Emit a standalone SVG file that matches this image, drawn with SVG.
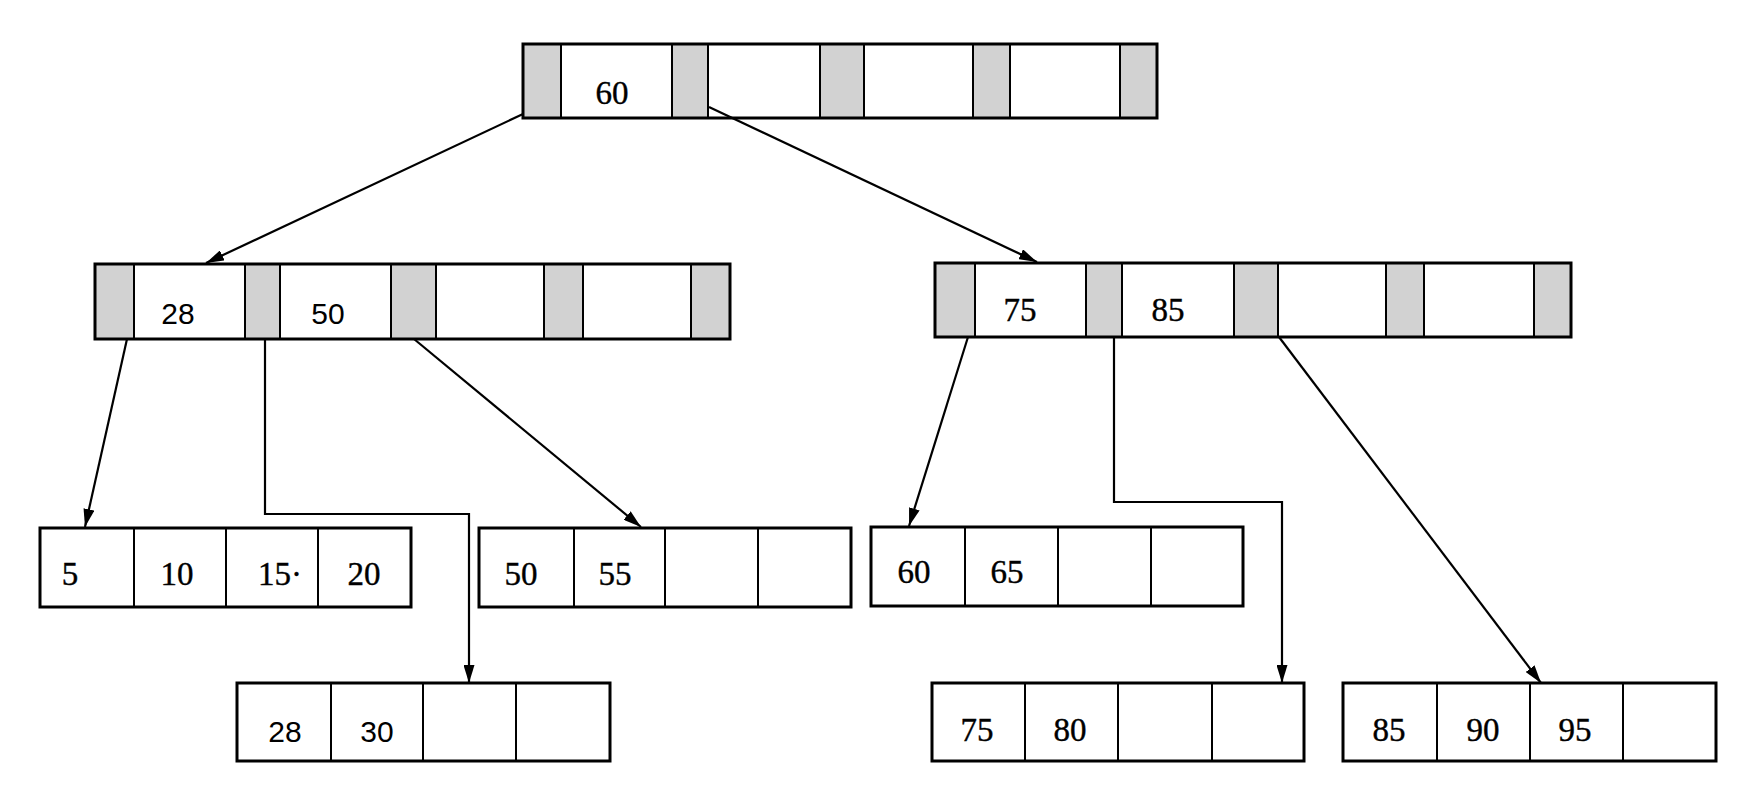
<svg xmlns="http://www.w3.org/2000/svg" width="1764" height="786" viewBox="0 0 1764 786">
<defs>
<marker id="arr" markerUnits="userSpaceOnUse" markerWidth="19" markerHeight="11" refX="18" refY="5.5" orient="auto">
<path d="M0,0 L18,5.5 L0,11 z" fill="#000"/>
</marker>
</defs>
<style>
.g{fill:#d2d2d2;stroke:none}
.o{fill:none;stroke:#000;stroke-width:3}
.d{stroke:#000;stroke-width:2}
.c{fill:none;stroke:#000;stroke-width:2.2;marker-end:url(#arr)}
.t{font-family:"Liberation Serif",serif;font-size:33px;fill:#000;stroke:#000;stroke-width:0.4;text-anchor:middle}
.s{font-family:"Liberation Sans",sans-serif;font-size:30px;fill:#000;text-anchor:middle}
</style>
<rect width="1764" height="786" fill="#fff"/>
<g id="connectors">
<path class="c" d="M523,114 L206,263"/>
<path class="c" d="M709,107 L1037,262"/>
<path class="c" d="M127,339 L85,527"/>
<path class="c" d="M265,339 V514 H469 V683"/>
<path class="c" d="M414,339 L641,527"/>
<path class="c" d="M968,337 L909,526"/>
<path class="c" d="M1114,337 V502 H1282 V683"/>
<path class="c" d="M1279,337 L1541,683"/>
</g>
<g id="root">
<rect class="g" x="523" y="44" width="38" height="74"/>
<rect class="g" x="672" y="44" width="36" height="74"/>
<rect class="g" x="820" y="44" width="44" height="74"/>
<rect class="g" x="973" y="44" width="37" height="74"/>
<rect class="g" x="1120" y="44" width="37" height="74"/>
<path class="d" d="M561,44V118M672,44V118M708,44V118M820,44V118M864,44V118M973,44V118M1010,44V118M1120,44V118"/>
<rect class="o" x="523" y="44" width="634" height="74"/>
<text class="t" x="612" y="104">60</text>
</g>
<g id="inner-left">
<rect class="g" x="95" y="264" width="39" height="75"/>
<rect class="g" x="245" y="264" width="35" height="75"/>
<rect class="g" x="391" y="264" width="45" height="75"/>
<rect class="g" x="544" y="264" width="39" height="75"/>
<rect class="g" x="691" y="264" width="39" height="75"/>
<path class="d" d="M134,264V339M245,264V339M280,264V339M391,264V339M436,264V339M544,264V339M583,264V339M691,264V339"/>
<rect class="o" x="95" y="264" width="635" height="75"/>
<text class="s" x="178" y="324">28</text>
<text class="s" x="328" y="324">50</text>
</g>
<g id="inner-right">
<rect class="g" x="935" y="263" width="40" height="74"/>
<rect class="g" x="1086" y="263" width="36" height="74"/>
<rect class="g" x="1234" y="263" width="44" height="74"/>
<rect class="g" x="1386" y="263" width="38" height="74"/>
<rect class="g" x="1534" y="263" width="37" height="74"/>
<path class="d" d="M975,263V337M1086,263V337M1122,263V337M1234,263V337M1278,263V337M1386,263V337M1424,263V337M1534,263V337"/>
<rect class="o" x="935" y="263" width="636" height="74"/>
<text class="t" x="1020" y="321">75</text>
<text class="t" x="1168" y="321">85</text>
</g>
<g id="leaf-5-20">
<path class="d" d="M134,528V607M226,528V607M318,528V607"/>
<rect class="o" x="40" y="528" width="371" height="79"/>
<text class="t" x="70" y="585">5</text>
<text class="t" x="177" y="585">10</text>
<text class="t" x="258" y="585" style="text-anchor:start">15·</text>
<text class="t" x="364" y="585">20</text>
</g>
<g id="leaf-50-55">
<path class="d" d="M574,528V607M665,528V607M758,528V607"/>
<rect class="o" x="479" y="528" width="372" height="79"/>
<text class="t" x="521" y="585">50</text>
<text class="t" x="615" y="585">55</text>
</g>
<g id="leaf-60-65">
<path class="d" d="M965,527V606M1058,527V606M1151,527V606"/>
<rect class="o" x="871" y="527" width="372" height="79"/>
<text class="t" x="914" y="583">60</text>
<text class="t" x="1007" y="583">65</text>
</g>
<g id="leaf-28-30">
<path class="d" d="M331,683V761M423,683V761M516,683V761"/>
<rect class="o" x="237" y="683" width="373" height="78"/>
<text class="s" x="285" y="742">28</text>
<text class="s" x="377" y="742">30</text>
</g>
<g id="leaf-75-80">
<path class="d" d="M1025,683V761M1118,683V761M1212,683V761"/>
<rect class="o" x="932" y="683" width="372" height="78"/>
<text class="t" x="977" y="741">75</text>
<text class="t" x="1070" y="741">80</text>
</g>
<g id="leaf-85-95">
<path class="d" d="M1437,683V761M1530,683V761M1623,683V761"/>
<rect class="o" x="1343" y="683" width="373" height="78"/>
<text class="t" x="1389" y="741">85</text>
<text class="t" x="1483" y="741">90</text>
<text class="t" x="1575" y="741">95</text>
</g>
</svg>
